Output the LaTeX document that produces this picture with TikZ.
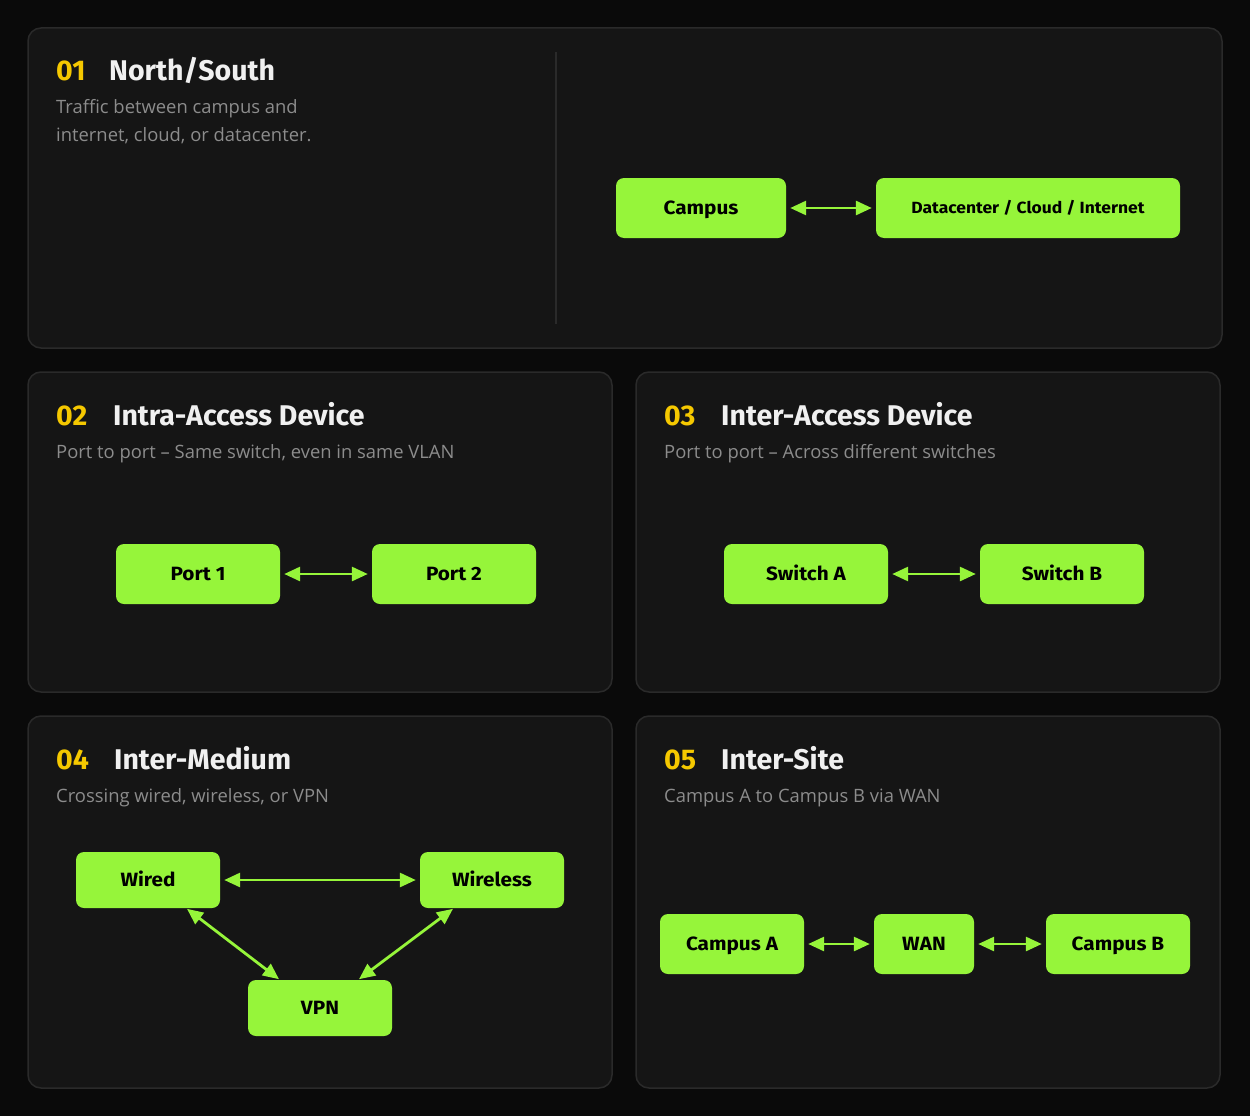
\documentclass[tikz,border=0pt]{standalone}
\usepackage{fontspec}
\setmainfont{Open Sans}
\newfontfamily\headfont{Fira Sans}
\newfontfamily\nodefont{Fira Sans}[FakeStretch=1.08]
\usetikzlibrary{arrows.meta}
\definecolor{bgc}{HTML}{0A0A0A}
\definecolor{panelc}{HTML}{151515}
\definecolor{panelb}{HTML}{2A2A2A}
\definecolor{limec}{HTML}{96F53A}
\definecolor{numc}{HTML}{F5C800}
\definecolor{subc}{HTML}{8C8C8C}
\definecolor{titc}{HTML}{F0F0F0}
\tikzset{
  panel/.style={fill=panelc, draw=panelb, line width=1.5pt, rounded corners=13pt},
  box/.style={fill=limec, rounded corners=8pt, inner sep=0pt, text=black,
    text height=13.3pt, text depth=0pt,
    font=\nodefont\bfseries\fontsize{19.2}{22}\selectfont},
  num/.style={anchor=base west, inner sep=0pt, text=numc, font=\headfont\bfseries\fontsize{28.5}{32}\selectfont},
  ttl/.style={anchor=base west, inner sep=0pt, text=titc, font=\headfont\bfseries\fontsize{28.5}{32}\selectfont},
  sub/.style={anchor=base west, inner sep=0pt, text=subc, font=\fontsize{18.4}{22}\selectfont},
  link/.style={draw=limec, line width=2.8pt, {Triangle[length=16pt,width=14pt]}-{Triangle[length=16pt,width=14pt]}, shorten >=4pt, shorten <=4pt}
}
\begin{document}
\begin{tikzpicture}[x=1pt,y=-1pt]
\fill[bgc] (0,0) rectangle (1250,1116);
\useasboundingbox (0,0) rectangle (1250,1116);
% panels
\draw[panel] (28,28) rectangle (1222,348);
\draw[panel] (28,372) rectangle (612,692);
\draw[panel] (636,372) rectangle (1220,692);
\draw[panel] (28,716) rectangle (612,1088);
\draw[panel] (636,716) rectangle (1220,1088);
\draw[panelb, line width=1.5pt] (556,52) -- (556,324);
% panel 1
\node[num] (n1) at (56,81) {01};
\node[ttl] (t1) at (109,81) {North/South};
\node[sub] (s1a) at (56,113) {Traffic between campus and};
\node[sub] (s1b) at (56,141) {internet, cloud, or datacenter.};
\node[box, minimum width=170pt, minimum height=60pt] (campus) at (701,208) {Campus};
\node[box, minimum width=304pt, minimum height=60pt, text height=11.2pt, font=\nodefont\bfseries\fontsize{16.2}{19}\selectfont] (dc) at (1028,208) {Datacenter / Cloud / Internet};
\draw[link] (campus) -- (dc);
% panel 2
\node[num] (n2) at (56,425) {02};
\node[ttl] (t2) at (113,425) {Intra-Access Device};
\node[sub] (s2) at (56,458) {Port to port – Same switch, even in same VLAN};
\node[box, minimum width=164pt, minimum height=60pt] (p1) at (198,574) {Port 1};
\node[box, minimum width=164pt, minimum height=60pt] (p2) at (454,574) {Port 2};
\draw[link] (p1) -- (p2);
% panel 3
\node[num] (n3) at (664,425) {03};
\node[ttl] (t3) at (721,425) {Inter-Access Device};
\node[sub] (s3) at (664,458) {Port to port – Across different switches};
\node[box, minimum width=164pt, minimum height=60pt] (sa) at (806,574) {Switch A};
\node[box, minimum width=164pt, minimum height=60pt] (sb) at (1062,574) {Switch B};
\draw[link] (sa) -- (sb);
% panel 4
\node[num] (n4) at (56,769) {04};
\node[ttl] (t4) at (114,769) {Inter-Medium};
\node[sub] (s4) at (56,802) {Crossing wired, wireless, or VPN};
\node[box, minimum width=144pt, minimum height=56pt] (wired) at (148,880) {Wired};
\node[box, minimum width=144pt, minimum height=56pt] (wless) at (492,880) {Wireless};
\node[box, minimum width=144pt, minimum height=56pt] (vpn) at (320,1008) {VPN};
\draw[link] (wired) -- (wless);
\draw[link, shorten >=1pt, shorten <=1pt] ([xshift=-34pt]wired.south east) -- ([xshift=32pt]vpn.north west);
\draw[link, shorten >=1pt, shorten <=1pt] ([xshift=34pt]wless.south west) -- ([xshift=-34pt]vpn.north east);
% panel 5
\node[num] (n5) at (664,769) {05};
\node[ttl] (t5) at (721,769) {Inter-Site};
\node[sub] (s5) at (664,802) {Campus A to Campus B via WAN};
\node[box, minimum width=144pt, minimum height=60pt] (ca) at (732,944) {Campus A};
\node[box, minimum width=100pt, minimum height=60pt] (wan) at (924,944) {WAN};
\node[box, minimum width=144pt, minimum height=60pt] (cb) at (1118,944) {Campus B};
\draw[link] (ca) -- (wan);
\draw[link] (wan) -- (cb);
\end{tikzpicture}
\end{document}
